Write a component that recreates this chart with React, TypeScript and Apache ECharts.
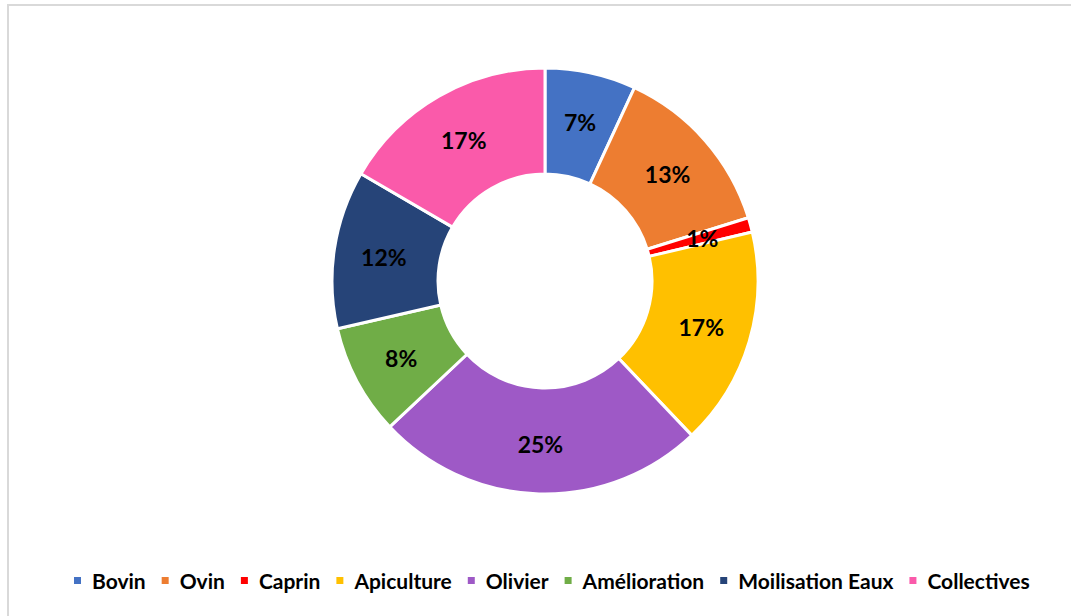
import React, { useEffect, useRef } from "react";
import * as echarts from "echarts";

const categories = ["Bovin", "Ovin", "Caprin", "Apiculture", "Olivier", "Amélioration", "Moilisation Eaux", "Collectives"];
const values = [6.9, 13.3, 1.1, 16.6, 25.1, 8.4, 12.0, 16.6];
const colors = ["#4472C4", "#ED7D31", "#FF0000", "#FFC000", "#9E59C6", "#70AD47", "#264478", "#FA5AAA"];

export default function App() {
  const ref = useRef<HTMLDivElement>(null);
  useEffect(() => {
    if (!ref.current) return;
    const chart = echarts.init(ref.current, null, { renderer: "svg" });
    const total = values.reduce((a, b) => a + b, 0);
    chart.setOption({
      animation: false,
      backgroundColor: "#ffffff",
      graphic: [
        {
          type: "rect",
          shape: { x: 8, y: 5, width: 1200, height: 800 },
          style: { fill: "none", stroke: "#d9d9d9", lineWidth: 2 },
          silent: true,
          z: 0,
        },
      ],
      legend: {
        data: categories,
        left: 67,
        top: 565,
        itemWidth: 9,
        itemHeight: 9,
        itemGap: 14,
        icon: "rect",
        textStyle: { fontFamily: "Lato", fontWeight: "bold", fontSize: 21, color: "#000", padding: [0, 0, 0, 5] },
      },
      series: [
        {
          type: "pie",
          center: [545, 281],
          radius: [107, 213],
          startAngle: 90,
          clockwise: true,
          avoidLabelOverlap: false,
          itemStyle: { borderColor: "#ffffff", borderWidth: 3 },
          label: {
            show: true,
            position: "inside",
            fontFamily: "Lato",
            fontWeight: "bold",
            fontSize: 23,
            color: "#000",
            padding: [4, 0, 0, 0],
            formatter: (p: any) => Math.round((p.value / total) * 100) + "%",
          },
          labelLine: { show: false },
          emphasis: { disabled: true },
          data: categories.map((c, i) => ({ name: c, value: values[i], itemStyle: { color: colors[i] } })),
        },
      ],
    });
    return () => chart.dispose();
  }, []);
  return <div ref={ref} style={{ position: "fixed", left: 0, top: 0, width: 1071, height: 616 }} />;
}
